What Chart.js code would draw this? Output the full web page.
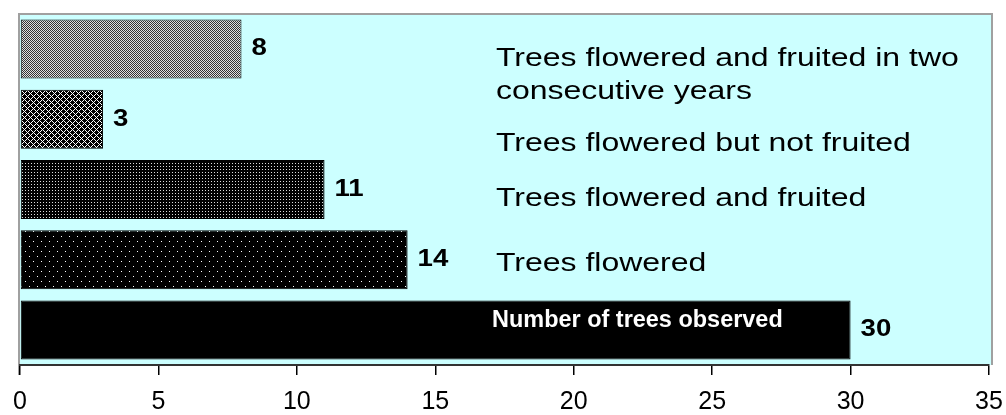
<!DOCTYPE html>
<html>
<head>
<meta charset="utf-8">
<script src="https://cdn.jsdelivr.net/npm/chart.js@4/dist/chart.umd.min.js"></script>
<style>
html,body{margin:0;padding:0;background:#fff;}
#wrap{width:1006px;height:415px;position:relative;}
</style>
</head>
<body>
<div id="wrap"><canvas id="c" width="1006" height="415"></canvas></div>
<script>
// ---- data ----
const categories = [
  ['Trees flowered and fruited in two', 'consecutive years'],
  ['Trees flowered but not fruited'],
  ['Trees flowered and fruited'],
  ['Trees flowered'],
  ['Number of trees observed']
];
const values = [8, 3, 11, 14, 30];
const xMin = 0, xMax = 35, xStep = 5;

// ---- patterns ----
function makePattern(w, h, bg, fg, pts) {
  const c = document.createElement('canvas');
  c.width = w; c.height = h;
  const g = c.getContext('2d');
  g.fillStyle = bg; g.fillRect(0, 0, w, h);
  g.fillStyle = fg;
  pts.forEach(p => g.fillRect(p[0], p[1], 1, 1));
  return document.getElementById('c').getContext('2d').createPattern(c, 'repeat');
}
const pat1 = makePattern(2, 2, '#333333', '#e0e0e0', [[1,0],[0,1]]);
const pat2 = makePattern(6, 6, '#000', '#ffffff', [[3,0],[2,1],[4,1],[1,2],[5,2],[0,3],[1,4],[5,4],[2,5],[4,5]]);
const pat3 = makePattern(3, 3, '#000', '#dddddd', [[1,1]]);
const pat4 = makePattern(8, 10, '#000', '#ffffff', [[1,1],[5,6]]);
const fills = [pat1, pat2, pat3, pat4, '#000000'];

function stretchText(ctx, text, x, y, sx) {
  ctx.save();
  ctx.translate(x, y);
  ctx.scale(sx, 1);
  ctx.fillText(text, 0, 0);
  ctx.restore();
}

// ---- plugins ----
const bgPlugin = {
  id: 'bg',
  beforeDraw(chart) {
    const {ctx, chartArea: a} = chart;
    const xs = chart.scales.x;
    const L = xs.left, R = xs.right;
    ctx.save();
    ctx.fillStyle = '#CCFFFF';
    ctx.fillRect(L - 1, a.top, R - L + 3, a.bottom - a.top);
    ctx.strokeStyle = '#a0a0a0';
    ctx.lineWidth = 2;
    ctx.beginPath();
    ctx.moveTo(L - 1, a.bottom + 10);
    ctx.lineTo(L - 1, a.top);
    ctx.lineTo(R + 3, a.top);
    ctx.lineTo(R + 3, a.bottom);
    ctx.stroke();
    ctx.restore();
  }
};

const labelPlugin = {
  id: 'labels',
  afterDatasetsDraw(chart) {
    const {ctx} = chart;
    const xs = chart.scales.x;
    const meta = chart.getDatasetMeta(0);
    ctx.save();
    // value labels
    ctx.fillStyle = '#000';
    ctx.font = 'bold 23px "Liberation Sans", Arial, sans-serif';
    ctx.textBaseline = 'middle';
    ctx.textAlign = 'left';
    meta.data.forEach((bar, i) => {
      stretchText(ctx, String(values[i]), bar.x + 10, bar.y, 1.2);
    });
    // category labels
    const tx = xs.left + 476;
    const offsets = [26, 25, 9, 4];
    ctx.font = '26px "Liberation Sans", Arial, sans-serif';
    for (let i = 0; i < 4; i++) {
      const lines = categories[i];
      const bar = meta.data[i];
      const lh = 33;
      const y0 = bar.y + offsets[i] - (lines.length - 1) * lh / 2;
      lines.forEach((ln, k) => stretchText(ctx, ln, tx, y0 + k * lh, 1.23));
    }
    // label inside last bar
    const last = meta.data[4];
    ctx.fillStyle = '#fff';
    ctx.font = 'bold 23px "Liberation Sans", Arial, sans-serif';
    stretchText(ctx, categories[4][0], tx - 4, last.y - 9, 1.02);
    ctx.restore();
  }
};

new Chart(document.getElementById('c'), {
  type: 'bar',
  data: {
    labels: categories.map(l => l.join(' ')),
    datasets: [{
      data: values,
      backgroundColor: fills,
      borderColor: '#000',
      borderWidth: 1,
      borderSkipped: false,
      barPercentage: 1,
      categoryPercentage: 0.84
    }]
  },
  options: {
    indexAxis: 'y',
    responsive: false,
    animation: false,
    layout: {padding: {left: 20, right: 17, top: 14, bottom: 0}},
    plugins: {legend: {display: false}, tooltip: {enabled: false}},
    scales: {
      y: {display: false},
      x: {
        min: xMin, max: xMax,
        ticks: {stepSize: xStep, color: '#000', padding: 12,
          font: {family: '"Liberation Sans", Arial, sans-serif', size: 25}},
        grid: {drawOnChartArea: false, drawTicks: true, tickLength: 10, color: '#000', lineWidth: 1.5},
        border: {display: true, color: '#333', width: 2},
        afterFit(s) { s.height = 50; s.paddingLeft = 0; s.paddingRight = 0; }
      }
    }
  },
  plugins: [bgPlugin, labelPlugin]
});
</script>
</body>
</html>
